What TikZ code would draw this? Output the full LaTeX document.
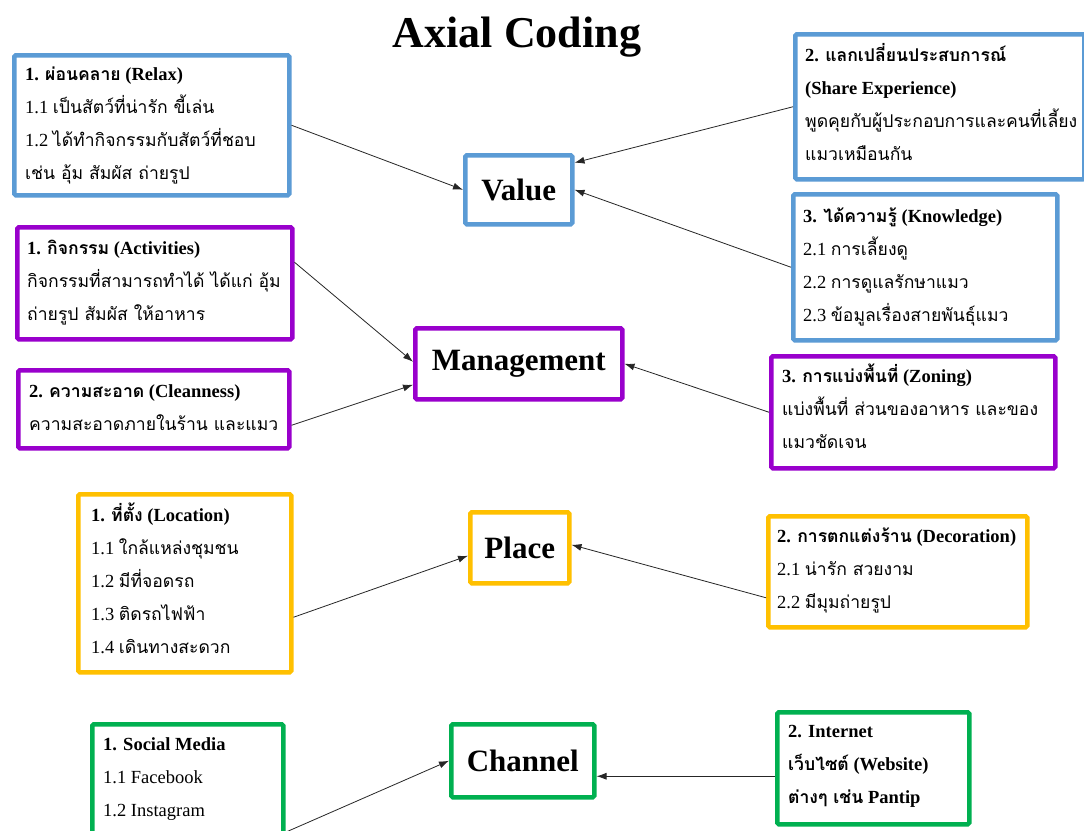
\documentclass[tikz,border=0pt]{standalone}
\usepackage{fontspec}
\setmainfont{Liberation Serif}
\newfontfamily\thaifont[Script=Thai,Scale=0.95]{Loma}
\newcommand\T[1]{{\thaifont #1}}
\newcommand\Fs{\rule{0pt}{22pt}}
\usetikzlibrary{arrows.meta}
\definecolor{cblue}{HTML}{5B9BD5}
\definecolor{cpurple}{HTML}{9900CC}
\definecolor{cyellow}{HTML}{FFC000}
\definecolor{cgreen}{HTML}{00B050}
\begin{document}
\begin{tikzpicture}[x=1pt,y=-1pt,
  box/.style={draw, line width=4.5pt, rounded corners=1.5pt, anchor=north west, inner sep=0pt},
  txt/.style={anchor=north west, align=left, inner sep=0pt, font=\fontsize{18.5}{33}\selectfont},
  hub/.style={draw, line width=4.5pt, rounded corners=1.5pt, inner sep=0pt, anchor=north west, font=\fontsize{31}{36}\selectfont\bfseries},
  arr/.style={-{Latex[length=10pt,width=7pt]}, line width=0.8pt, draw=black!85}
]
\useasboundingbox (0,0) rectangle (1084,830);
\fill[white] (0,0) rectangle (1084,830);

\node[anchor=base, font=\fontsize{44}{50}\selectfont\bfseries] (title) at (517,47) {Axial Coding};

% hubs
\node[hub, draw=cblue, minimum width=107pt, minimum height=69pt] (value) at (463,153) {Value};
\node[hub, draw=cpurple, minimum width=207pt, minimum height=71pt] (mgmt) at (413,326) {Management};
\node[hub, draw=cyellow, minimum width=99pt, minimum height=71pt] (place) at (468,510) {Place};
\node[hub, draw=cgreen, minimum width=143pt, minimum height=73pt] (channel) at (449,722) {Channel};

% Value boxes
\node[box, draw=cblue, minimum width=275pt, minimum height=140pt] (relax) at (12,53) {};
\node[txt] (relaxt) at (25,58) {\Fs\textbf{1. \T{ผ่อนคลาย} (Relax)}\\
1.1 \T{เป็นสัตว์ที่น่ารัก ขี้เล่น}\\
1.2 \T{ได้ทำกิจกรรมกับสัตว์ที่ชอบ}\\
\T{เช่น อุ้ม สัมผัส ถ่ายรูป}};

\node[box, draw=cblue, minimum width=289pt, minimum height=145pt] (share) at (793,32) {};
\node[txt] (sharet) at (805,39) {\Fs\textbf{2. \T{แลกเปลี่ยนประสบการณ์}}\\
\textbf{(Share Experience)}\\
\T{พูดคุยกับผู้ประกอบการและคนที่เลี้ยง}\\
\T{แมวเหมือนกัน}};

\node[box, draw=cblue, minimum width=264pt, minimum height=146pt] (know) at (791,192) {};
\node[txt] (knowt) at (803,200) {\Fs\textbf{3. \T{ได้ความรู้} (Knowledge)}\\
2.1 \T{การเลี้ยงดู}\\
2.2 \T{การดูแลรักษาแมว}\\
2.3 \T{ข้อมูลเรื่องสายพันธุ์แมว}};

% Management boxes
\node[box, draw=cpurple, minimum width=275pt, minimum height=112pt] (act) at (15,225) {};
\node[txt] (actt) at (27,232) {\Fs\textbf{1. \T{กิจกรรม} (Activities)}\\
\T{กิจกรรมที่สามารถทำได้ ได้แก่ อุ้ม}\\
\T{ถ่ายรูป สัมผัส ให้อาหาร}};

\node[box, draw=cpurple, minimum width=271pt, minimum height=78pt] (clean) at (16,368) {};
\node[txt] (cleant) at (29,375) {\Fs\textbf{2. \T{ความสะอาด} (Cleanness)}\\
\T{ความสะอาดภายในร้าน และแมว}};

\node[box, draw=cpurple, minimum width=284pt, minimum height=112pt] (zone) at (769,354) {};
\node[txt] (zonet) at (782,360) {\Fs\textbf{3. \T{การแบ่งพื้นที่} (Zoning)}\\
\T{แบ่งพื้นที่ ส่วนของอาหาร และของ}\\
\T{แมวชัดเจน}};

% Place boxes
\node[box, draw=cyellow, minimum width=213pt, minimum height=178pt] (loc) at (76,492) {};
\node[txt] (loct) at (91,499) {\Fs\textbf{1. \T{ที่ตั้ง} (Location)}\\
1.1 \T{ใกล้แหล่งชุมชน}\\
1.2 \T{มีที่จอดรถ}\\
1.3 \T{ติดรถไฟฟ้า}\\
1.4 \T{เดินทางสะดวก}};

\node[box, draw=cyellow, minimum width=259pt, minimum height=111pt] (deco) at (766,514) {};
\node[txt] (decot) at (777,520) {\Fs\textbf{2. \T{การตกแต่งร้าน} (Decoration)}\\
2.1 \T{น่ารัก สวยงาม}\\
2.2 \T{มีมุมถ่ายรูป}};

% Channel boxes
\node[box, draw=cgreen, minimum width=191pt, minimum height=120pt] (social) at (90,722) {};
\node[txt] (socialt) at (103,728) {\Fs\textbf{1. Social Media}\\
1.1 Facebook\\
1.2 Instagram};

\node[box, draw=cgreen, minimum width=192pt, minimum height=112pt] (inet) at (775,710) {};
\node[txt] (inett) at (788,715) {\Fs\textbf{2. Internet}\\
\textbf{\T{เว็บไซต์} (Website)}\\
\textbf{\T{ต่างๆ เช่น} Pantip}};

% connectors
\draw[arr] (relax.east) -- (value.west);
\draw[arr] (share.west) -- ([yshift=27pt]value.east);
\draw[arr] (know.west) -- (value.east);
\draw[arr] ([yshift=21pt]act.east) -- ([yshift=2pt]mgmt.west);
\draw[arr] ([yshift=-16pt]clean.east) -- ([yshift=-21pt]mgmt.west);
\draw[arr] (zone.west) -- (mgmt.east);
\draw[arr] ([yshift=-34pt]loc.east) -- ([yshift=-8pt]place.west);
\draw[arr] ([yshift=-26pt]deco.west) -- ([yshift=3pt]place.east);
\draw[arr] ([yshift=-48pt]social.east) -- (channel.west);
\draw[arr] ([yshift=-8pt]inet.west) -- ([yshift=-8pt]inet.west -| channel.east);
\end{tikzpicture}
\end{document}
